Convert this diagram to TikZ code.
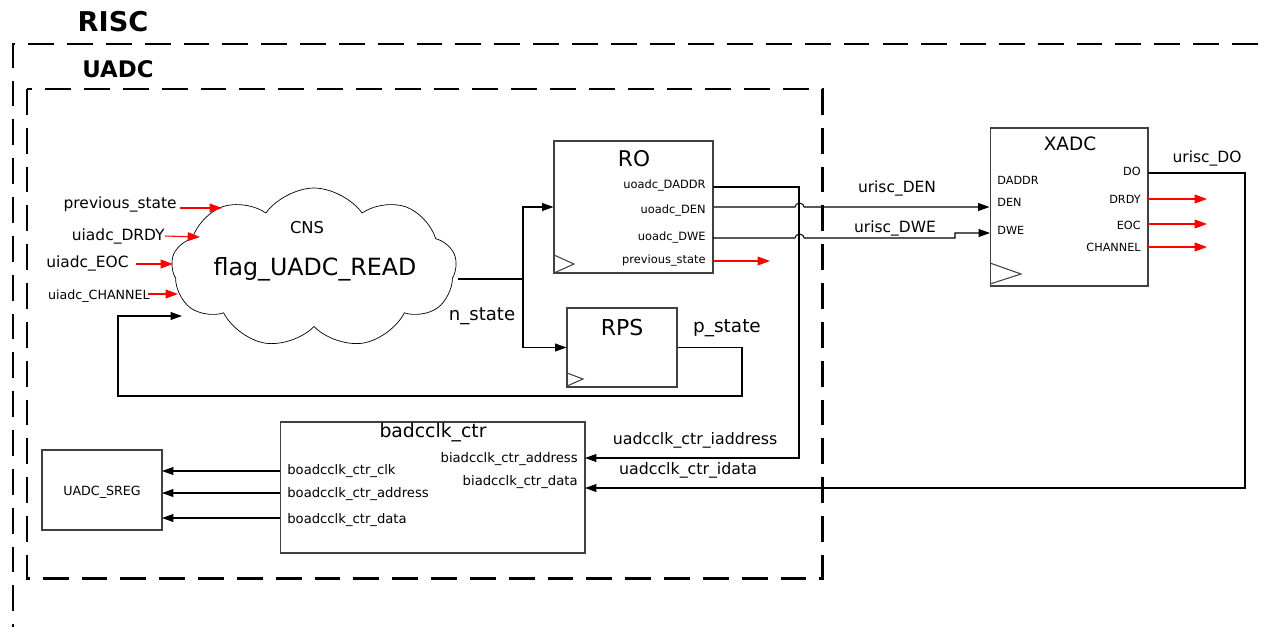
\documentclass[tikz,border=0pt]{standalone}
\usepackage{fontspec}
\setmainfont{DejaVu Sans}
\newfontfamily\hdfont{DejaVu Sans}
\usetikzlibrary{arrows.meta,shapes.symbols}
\newcommand{\fsz}[1]{\fontsize{#1}{#1}\selectfont}

\begin{document}
\begin{tikzpicture}[x=0.02cm,y=-0.02cm,
  blk/.style={draw=black!75, line width=0.6pt, inner sep=0pt},
  pin/.style={inner sep=0pt, font=\fsz{6.5pt}},
  lbl/.style={inner sep=0pt, font=\fsz{8.8pt}},
  wire/.style={line width=0.6pt},
  tip/.style={-{Triangle[length=6.5pt,width=4.5pt]}},
  sig/.style={red, line width=0.6pt, -{Triangle[length=7pt,width=5pt]}},
  bound/.style={line width=1.7pt, dash pattern=on 14.7pt off 7.4pt}]
  \useasboundingbox (0,0) rectangle (1270,626);

  % boundaries
  \draw[bound] (13,650) -- (13,44) -- (1290,44);
  \draw[bound] (27,89) rectangle (822,578);
  \node[font=\hdfont\bfseries\fsz{15.5pt}] (risc) at (113,22) {RISC};
  \node[font=\hdfont\bfseries\fsz{13pt}] (uadc) at (118,69) {UADC};

  % state logic
  \node[cloud, draw, cloud puffs=9, cloud puff arc=110, aspect=1.85, minimum width=5.7cm, minimum height=3.2cm] (cns) at (314,268) {};
  \node[font=\fsz{9.3pt}] (cnsT) at (307,228) {CNS};
  \node[font=\fsz{13.5pt}] (flag) at (315,269) {flag\_UADC\_READ};

  \node[lbl, anchor=east] (iPrev) at (177,204) {previous\_state};
  \node[lbl, anchor=east] (iDrdy) at (165,236) {uiadc\_DRDY};
  \node[lbl, anchor=east] (iEoc) at (129,263) {uiadc\_EOC};
  \node[lbl, anchor=east, font=\fsz{7.2pt}] (iChan) at (150,296) {uiadc\_CHANNEL};
  \coordinate (cPrev) at (222,208);
  \coordinate (cDrdy) at (200,237);
  \coordinate (cEoc) at (173,264);
  \coordinate (cChan) at (178,294);
  \draw[sig] (180,208) -- (cPrev);
  \draw[sig] (iDrdy.east) -- (cDrdy);
  \draw[sig] (136,264) -- (cEoc);
  \draw[sig] (148,294) -- (cChan);

  % registers
  \node[blk, minimum width=3.18cm, minimum height=2.64cm] (ro) at (633.5,207) {};
  \node[font=\fsz{12.3pt}] (roT) at (634,159) {RO};
  \node[pin, anchor=east] (roDaddr) at (706,186) {uoadc\_DADDR};
  \node[pin, anchor=east] (roDen) at (706,211) {uoadc\_DEN};
  \node[pin, anchor=east] (roDwe) at (706,238) {uoadc\_DWE};
  \node[pin, anchor=east] (roPrev) at (706,261) {previous\_state};
  \draw[blk] (554,255) -- (574,264) -- (554,273);

  \node[blk, minimum width=2.2cm, minimum height=1.58cm] (rps) at (622,347.5) {};
  \node[font=\fsz{12.5pt}] (rpsT) at (622,327) {RPS};
  \draw[blk] (567,373) -- (583,379) -- (567,386);

  \coordinate (cOut) at (458,279);
  \coordinate (split) at (523,279);
  \draw[wire] (cOut) -- (split);
  \draw[wire, tip] (split) |- (ro.west);
  \draw[wire, tip] (split) |- (rps.west);
  \node[font=\fsz{10.3pt}] (nst) at (482,316) {n\_state};
  \node[font=\fsz{10.5pt}] (pst) at (727,328) {p\_state};
  \coordinate (cLoop) at (182,316);
  \draw[wire, tip] (rps.east) -- (742,347.5) -- (742,396) -- (118,396) -- (118,316) -- (cLoop);
  \coordinate (roPrevEnd) at (770,261);
  \draw[sig] (713,261) -- (roPrevEnd);

  % XADC
  \node[blk, minimum width=3.16cm, minimum height=3.16cm] (xadc) at (1069,207) {};
  \node[font=\fsz{10.5pt}] (xadcT) at (1070,144) {XADC};
  \node[pin, anchor=west, font=\fsz{6.4pt}] (xDaddr) at (997,180) {DADDR};
  \node[pin, anchor=west, font=\fsz{6.4pt}] (xDen) at (997,202) {DEN};
  \node[pin, anchor=west, font=\fsz{6.4pt}] (xDwe) at (997,230) {DWE};
  \node[pin, anchor=east, font=\fsz{6.4pt}] (xDo) at (1141,171) {DO};
  \node[pin, anchor=east, font=\fsz{6.4pt}] (xDrdy) at (1141,199) {DRDY};
  \node[pin, anchor=east, font=\fsz{6.4pt}] (xEoc) at (1141,225) {EOC};
  \node[pin, anchor=east, font=\fsz{6.4pt}] (xChan) at (1141,247) {CHANNEL};
  \draw[blk] (990,263) -- (1021,274) -- (990,284);
  \foreach \p/\y in {Drdy/199,Eoc/224,Chan/247}
    \draw[sig] (1148,\y) -- (1207,\y) coordinate (o\p);

  \draw[wire, tip] (ro.east) -- (795,207)
    arc[start angle=180, end angle=0, x radius=2.6pt, y radius=2.2pt] -- (xadc.west);
  \draw[wire, tip] (713,238) -- (795,238)
    arc[start angle=180, end angle=0, x radius=2.6pt, y radius=2.2pt] -- (955,238) -- (955,233) -- (990,233);
  \node[font=\fsz{8.8pt}] (uDen) at (897,188) {urisc\_DEN};
  \node[font=\fsz{8.8pt}] (uDwe) at (895,228) {urisc\_DWE};
  \node[font=\fsz{8.8pt}] (uDo) at (1207,158) {urisc\_DO};

  % clock control
  \node[blk, minimum width=6.1cm, minimum height=2.62cm] (bctr) at (432.5,487.5) {};
  \node[font=\fsz{10.7pt}] (bctrT) at (433,433) {badcclk\_ctr};
  \node[pin, anchor=west, font=\fsz{7.5pt}] (bClk) at (287,471) {boadcclk\_ctr\_clk};
  \node[pin, anchor=west, font=\fsz{7.5pt}] (bAddr) at (287,494) {boadcclk\_ctr\_address};
  \node[pin, anchor=west, font=\fsz{7.5pt}] (bData) at (287,520) {boadcclk\_ctr\_data};
  \node[pin, anchor=east, font=\fsz{7.5pt}] (bIaddr) at (578,459) {biadcclk\_ctr\_address};
  \node[pin, anchor=east, font=\fsz{7.5pt}] (bIdata) at (578,482) {biadcclk\_ctr\_data};

  \node[blk, minimum width=2.4cm, minimum height=1.6cm] (sreg) at (102,490) {};
  \node[font=\fsz{7.2pt}] (sregT) at (102,492) {UADC\_SREG};
  \foreach \y in {471,493,518}
    \draw[wire, tip] (280,\y) -- (162,\y);

  \draw[wire, tip] (713,187) -- (799,187) -- (799,458) -- (585,458);
  \draw[wire, tip] (1148,173) -- (1245,173) -- (1245,488) -- (585,488);
  \node[font=\fsz{9pt}] (uIaddr) at (695,440) {uadcclk\_ctr\_iaddress};
  \node[font=\fsz{9pt}] (uIdata) at (688,470) {uadcclk\_ctr\_idata};
\end{tikzpicture}
\end{document}
